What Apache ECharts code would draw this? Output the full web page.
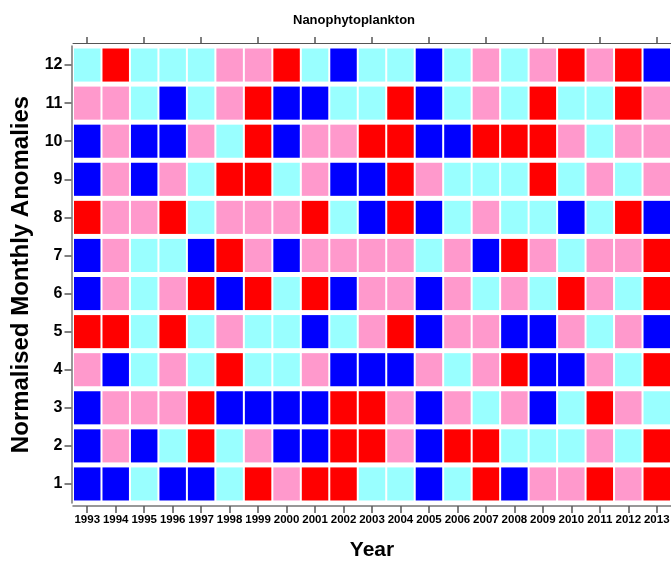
<!DOCTYPE html>
<html>
<head>
<meta charset="utf-8">
<script src="https://cdn.jsdelivr.net/npm/echarts@6/dist/echarts.min.js"></script>
<style>html,body{margin:0;padding:0;background:#fff;}#c{width:671px;height:563px;}</style>
</head>
<body>
<div id="c"></div>
<script>
// Anomaly classes: -2 = strong negative (blue), -1 = weak negative (cyan), 1 = weak positive (pink), 2 = strong positive (red)
var years = ['1993','1994','1995','1996','1997','1998','1999','2000','2001','2002','2003','2004','2005','2006','2007','2008','2009','2010','2011','2012','2013'];
var months = ['1','2','3','4','5','6','7','8','9','10','11','12'];

var m1  = [-2,-2,-1,-2,-2,-1, 2, 1, 2, 2,-1,-1,-2,-1, 2,-2, 1, 1, 2, 1, 2];
var m2  = [-2, 1,-2,-1, 2,-1, 1,-2,-2, 2, 2, 1,-2, 2, 2,-1,-1,-1, 1,-1, 2];
var m3  = [-2, 1, 1, 1, 2,-2,-2,-2,-2, 2, 2, 1,-2, 1,-1, 1,-2,-1, 2, 1,-1];
var m4  = [ 1,-2,-1, 1,-1, 2,-1,-1, 1,-2,-2,-2, 1,-1, 1, 2,-2,-2, 1,-1, 2];
var m5  = [ 2, 2,-1, 2,-1, 1,-1,-1,-2,-1, 1, 2,-2, 1, 1,-2,-2, 1,-1, 1,-2];
var m6  = [-2, 1,-1, 1, 2,-2, 2,-1, 2,-2, 1, 1,-2, 1,-1, 1,-1, 2, 1,-1, 2];
var m7  = [-2, 1,-1,-1,-2, 2, 1,-2, 1, 1, 1, 1,-1, 1,-2, 2, 1,-1, 1, 1, 2];
var m8  = [ 2, 1, 1, 2,-1, 1, 1, 1, 2,-1,-2, 2,-2,-1, 1,-1,-1,-2,-1, 2,-2];
var m9  = [-2, 1,-2, 1,-1, 2, 2,-1, 1,-2,-2, 2, 1,-1,-1,-1, 2,-1, 1,-1, 1];
var m10 = [-2, 1,-2,-2, 1,-1, 2,-2, 1, 1, 2, 2,-2,-2, 2, 2, 2, 1,-1, 1, 1];
var m11 = [ 1, 1,-1,-2,-1, 1, 2,-2,-2,-1,-1, 2,-2,-1, 1,-1, 2,-1,-1, 2, 1];
var m12 = [-1, 2,-1,-1,-1, 1, 1, 2,-1,-2,-1,-1,-2,-1, 1,-1, 1, 2, 1, 2,-2];

var monthRows = [m1,m2,m3,m4,m5,m6,m7,m8,m9,m10,m11,m12];
var data = [];
monthRows.forEach(function(row, mi){
  row.forEach(function(v, yi){ data.push([yi, mi, v]); });
});

var FONT = 'Liberation Sans, Arial, sans-serif';
var axisLineStyle = {color:'#777', width:1.5};

var chart = echarts.init(document.getElementById('c'), null, {renderer:'canvas'});
chart.setOption({
  animation:false,
  backgroundColor:'#fff',
  title:{
    text:'Nanophytoplankton', left:288, top:9,
    textStyle:{fontFamily:FONT, fontWeight:'bold', fontSize:13, color:'#000'}
  },
  grid:{left:73, right:0, top:46, bottom:60, containLabel:false, outerBoundsMode:'none'},
  visualMap:{
    type:'piecewise', show:false, dimension:2, seriesIndex:0,
    pieces:[
      {value:-2, color:'#0000FF'},
      {value:-1, color:'#99FFFF'},
      {value:1, color:'#FF99CC'},
      {value:2, color:'#FF0000'}
    ]
  },
  xAxis:[{
    type:'category', data:years, position:'bottom', offset:3,
    axisLine:{show:true, lineStyle:axisLineStyle},
    axisTick:{show:true, alignWithLabel:true, length:7, lineStyle:{color:'#555', width:1.5}},
    axisLabel:{show:true, interval:0, margin:8, fontFamily:FONT, fontWeight:'bold', fontSize:11.5, color:'#000'},
    splitLine:{show:false},
    name:'Year', nameLocation:'middle', nameGap:34,
    nameTextStyle:{fontFamily:FONT, fontWeight:'bold', fontSize:21, color:'#000'}
  },{
    type:'category', data:years, position:'top', offset:3,
    axisLine:{show:true, lineStyle:{color:'#555', width:1}},
    axisTick:{show:true, alignWithLabel:true, length:6, lineStyle:{color:'#555', width:1.5}},
    axisLabel:{show:false},
    splitLine:{show:false}
  }],
  yAxis:{
    type:'category', data:months, offset:1.5,
    axisLine:{show:true, lineStyle:axisLineStyle},
    axisTick:{show:true, alignWithLabel:true, length:7, lineStyle:{color:'#555', width:1.5}},
    axisLabel:{show:true, interval:0, margin:9, fontFamily:FONT, fontWeight:'bold', fontSize:16, color:'#000'},
    splitLine:{show:false},
    name:'Normalised Monthly Anomalies', nameLocation:'middle', nameGap:38,
    nameTextStyle:{fontFamily:FONT, fontWeight:'bold', fontSize:24, color:'#000'}
  },
  series:[{
    type:'custom',
    xAxisIndex:0, yAxisIndex:0,
    encode:{x:0, y:1},
    data:data,
    renderItem:function(params, api){
      var p = api.coord([api.value(0), api.value(1)]);
      var s = api.size([1,1]);
      var w = s[0]-2, h = s[1]-5;
      return {
        type:'rect',
        shape:{x:p[0]-w/2, y:p[1]-h/2, width:w, height:h},
        style:{fill:api.visual('color')}
      };
    }
  }]
});
</script>
</body>
</html>
